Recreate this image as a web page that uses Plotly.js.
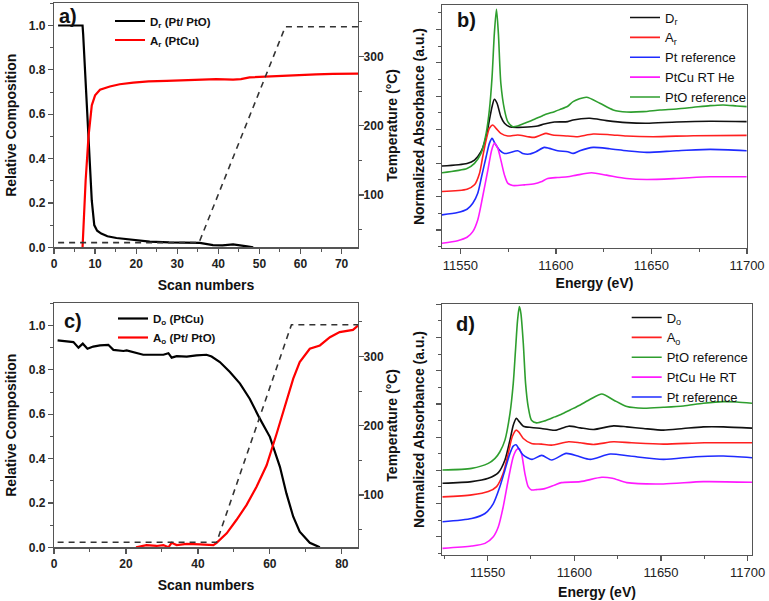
<!DOCTYPE html>
<html><head><meta charset="utf-8">
<script src="https://cdn.plot.ly/plotly-3.0.1.min.js"></script>
<style>html,body{margin:0;padding:0;background:#fff}#chart{width:769px;height:601px}</style>
</head><body><div id="chart"></div>
<script>
// ---------- Panel a ----------
const aScanD = [1, 6.95, 7.1, 7.95, 8.6, 9.2, 9.8, 10.5, 11.5, 13, 15.2, 19.3, 23.3, 28, 32, 35.5, 38.7, 41, 43.6, 45.2, 47, 48.5];
const aD     = [1.0, 1.0, 0.96, 0.66, 0.41, 0.21, 0.10, 0.075, 0.062, 0.05, 0.042, 0.033, 0.026, 0.022, 0.02, 0.02, 0.01, 0.009, 0.013, 0.01, 0.004, 0.0];
const aScanA = [6.95, 7.7, 8.4, 9.2, 10.0, 11.2, 13.6, 16, 19.3, 23, 27.4, 31, 35.5, 39.5, 43.6, 45.5, 47.6, 51.7, 55.8, 59.8, 63.8, 67.9, 74];
const aA     = [0.0, 0.30, 0.50, 0.64, 0.685, 0.71, 0.725, 0.735, 0.742, 0.748, 0.75, 0.752, 0.755, 0.758, 0.756, 0.758, 0.766, 0.77, 0.772, 0.778, 0.78, 0.782, 0.783];
const aScanT = [1, 35.3, 56.3, 74];
const aTemp  = [31, 31, 343, 343];

// ---------- Panel c ----------
const cScanD = [1, 3.5, 5.4, 6.8, 8.0, 9.3, 10.9, 12.8, 15.1, 16.5, 19.3, 20.2, 22.0, 24.8, 27.6, 30.4, 31.8, 32.7, 34.1, 36.9, 39.6, 42.4, 43.8, 46.1, 48.9, 51.7, 54.4, 57.2, 60.0, 62.8, 64.6, 66.5, 68.3, 71.1, 73.9];
const cD     = [0.933, 0.93, 0.925, 0.90, 0.918, 0.895, 0.905, 0.91, 0.913, 0.89, 0.885, 0.888, 0.88, 0.868, 0.868, 0.868, 0.875, 0.855, 0.862, 0.86, 0.865, 0.868, 0.86, 0.835, 0.79, 0.738, 0.67, 0.58, 0.498, 0.363, 0.243, 0.138, 0.07, 0.02, 0.0];
const cScanA = [22.8, 25.7, 28.5, 30.4, 31.8, 32.7, 34.1, 36.9, 40.6, 44.3, 45.2, 48.0, 50.7, 53.5, 56.3, 59.1, 61.9, 64.6, 66.5, 68.3, 71.1, 73.9, 76.7, 79.4, 83.1, 84.5];
const cA     = [0.0, 0.01, 0.006, 0.01, 0.0, 0.02, 0.01, 0.015, 0.013, 0.01, 0.02, 0.063, 0.123, 0.19, 0.273, 0.37, 0.513, 0.663, 0.76, 0.835, 0.895, 0.91, 0.947, 0.97, 0.98, 1.0];
const cScanT = [1, 45.2, 66.0, 84.5];
const cTemp  = [31.5, 31.5, 346, 346];

// ---------- Panel b (energy eV, offset absorbance a.u.) ----------
const bGreenE = [11540, 11553.5, 11557.4, 11560.8, 11563.5, 11565.2, 11566.6, 11567.8, 11568.9, 11569.9, 11571.2, 11573.1, 11574.8, 11577.4, 11580.0, 11583.6, 11588.8, 11593.9, 11599.2, 11602.0, 11606.2, 11609.0, 11616.0, 11623.0, 11630.0, 11637.0, 11645.7, 11654.5, 11663.2, 11672.0, 11680.7, 11687.6, 11694.6, 11699.8];
const bGreen  = [2.71, 2.84, 2.99, 3.29, 3.89, 4.59, 5.58, 6.88, 7.60, 6.88, 5.38, 4.59, 4.24, 4.09, 4.11, 4.19, 4.31, 4.44, 4.54, 4.6, 4.7, 4.84, 4.97, 4.79, 4.59, 4.53, 4.54, 4.59, 4.62, 4.67, 4.72, 4.74, 4.71, 4.69];
const bBlackE = [11540, 11553.5, 11557.4, 11560.8, 11563.5, 11565.2, 11566.6, 11567.8, 11569.2, 11571.2, 11573.1, 11575.7, 11580.0, 11585.3, 11590.4, 11593.9, 11599.2, 11606.2, 11609.0, 11617.8, 11626.5, 11637.0, 11647.5, 11663.2, 11680.7, 11699.8];
const bBlack  = [2.91, 2.99, 3.09, 3.34, 3.79, 4.29, 4.69, 4.91, 4.79, 4.39, 4.19, 4.09, 4.07, 4.08, 4.11, 4.17, 4.23, 4.24, 4.29, 4.34, 4.27, 4.21, 4.19, 4.23, 4.25, 4.24];
const bRedE   = [11540, 11553.5, 11557.4, 11560.0, 11561.7, 11563.5, 11565.2, 11567.0, 11568.7, 11571.2, 11574.8, 11580.0, 11585.3, 11588.8, 11592.2, 11594.8, 11598.3, 11606.2, 11610.8, 11619.5, 11628.2, 11637.0, 11650.9, 11672.0, 11699.8];
const bRed    = [2.15, 2.22, 2.35, 2.69, 3.19, 3.69, 4.04, 4.14, 4.04, 3.89, 3.81, 3.84, 3.79, 3.77, 3.84, 3.89, 3.84, 3.81, 3.79, 3.87, 3.85, 3.81, 3.79, 3.82, 3.83];
const bBlueE  = [11540, 11548.6, 11553.5, 11556.5, 11559.1, 11561.1, 11563.5, 11565.2, 11566.6, 11568.1, 11570.5, 11573.1, 11575.7, 11580.0, 11582.6, 11586.1, 11589.6, 11593.9, 11596.5, 11600.9, 11606.2, 11609.0, 11612.5, 11619.5, 11628.2, 11637.0, 11647.5, 11663.2, 11680.7, 11699.8];
const bBlue   = [1.45, 1.52, 1.62, 1.80, 2.10, 2.59, 3.19, 3.59, 3.74, 3.59, 3.39, 3.29, 3.31, 3.37, 3.29, 3.27, 3.34, 3.47, 3.44, 3.37, 3.34, 3.29, 3.37, 3.47, 3.43, 3.37, 3.32, 3.37, 3.41, 3.37];
const bMagE   = [11540, 11548.6, 11553.5, 11556.5, 11559.1, 11561.7, 11564.4, 11566.4, 11567.8, 11569.6, 11571.2, 11573.1, 11574.8, 11577.4, 11583.6, 11588.8, 11592.2, 11595.7, 11600.9, 11606.2, 11610.8, 11618.6, 11626.5, 11637.0, 11647.5, 11663.2, 11680.7, 11699.8];
const bMag    = [0.60, 0.68, 0.78, 0.95, 1.30, 2.00, 2.79, 3.39, 3.59, 3.44, 3.09, 2.64, 2.40, 2.33, 2.35, 2.38, 2.44, 2.54, 2.57, 2.59, 2.64, 2.71, 2.64, 2.54, 2.51, 2.54, 2.59, 2.59];

// ---------- Panel d ----------
const dGreenE = [11524, 11540.8, 11550.4, 11554.3, 11557.1, 11560.0, 11562.9, 11564.8, 11566.1, 11567.3, 11568.3, 11569.2, 11570.6, 11571.9, 11573.4, 11575.3, 11578.2, 11583.0, 11588.8, 11592.6, 11597.6, 11603.4, 11609.2, 11615.9, 11622.6, 11630.3, 11639.9, 11651.4, 11662.9, 11674.4, 11686.0, 11693.7, 11702.5];
const dGreen  = [3.01, 3.06, 3.21, 3.36, 3.56, 3.91, 4.71, 5.62, 6.62, 7.53, 7.93, 7.73, 6.82, 5.62, 4.92, 4.51, 4.43, 4.49, 4.61, 4.69, 4.82, 4.97, 5.14, 5.30, 5.12, 4.92, 4.87, 4.90, 4.94, 5.02, 5.07, 5.06, 5.02];
const dBlackE = [11524, 11540.8, 11550.4, 11556.2, 11560.0, 11562.9, 11564.8, 11566.6, 11567.9, 11570.6, 11575.3, 11581.1, 11585.0, 11589.5, 11596.7, 11603.4, 11611.0, 11622.6, 11630.3, 11639.9, 11651.4, 11662.9, 11674.4, 11686.0, 11702.5];
const dBlack  = [2.61, 2.66, 2.76, 2.93, 3.31, 3.91, 4.36, 4.57, 4.49, 4.33, 4.29, 4.26, 4.23, 4.21, 4.33, 4.28, 4.23, 4.34, 4.31, 4.26, 4.21, 4.26, 4.31, 4.31, 4.27];
const dRedE   = [11524, 11540.8, 11550.4, 11555.2, 11559.0, 11561.9, 11564.2, 11566.4, 11567.9, 11570.6, 11575.3, 11581.1, 11586.9, 11596.7, 11603.4, 11611.0, 11622.6, 11633.0, 11651.4, 11675.0, 11702.5];
const dRed    = [2.20, 2.26, 2.36, 2.51, 2.91, 3.51, 4.01, 4.21, 4.16, 3.96, 3.81, 3.79, 3.76, 3.86, 3.83, 3.78, 3.86, 3.83, 3.79, 3.83, 3.83];
const dBlueE  = [11524, 11540.8, 11548.5, 11553.3, 11557.1, 11560.0, 11562.9, 11564.8, 11566.4, 11567.9, 11570.6, 11575.6, 11581.2, 11587.0, 11595.3, 11602.0, 11609.2, 11620.7, 11632.0, 11651.4, 11670.0, 11686.0, 11702.5];
const dBlue   = [1.45, 1.55, 1.70, 2.00, 2.51, 3.01, 3.51, 3.73, 3.77, 3.66, 3.46, 3.33, 3.45, 3.31, 3.51, 3.43, 3.33, 3.49, 3.43, 3.33, 3.41, 3.43, 3.38];
const dMagE   = [11524, 11540.8, 11548.5, 11553.3, 11556.2, 11559.0, 11561.9, 11564.8, 11566.7, 11568.1, 11569.6, 11571.5, 11573.4, 11575.3, 11578.2, 11583.0, 11588.8, 11592.6, 11603.4, 11615.9, 11622.0, 11630.3, 11651.4, 11674.4, 11702.5];
const dMag    = [0.65, 0.72, 0.80, 1.00, 1.30, 1.90, 2.71, 3.41, 3.62, 3.66, 3.49, 2.91, 2.51, 2.41, 2.42, 2.45, 2.56, 2.63, 2.66, 2.79, 2.76, 2.63, 2.59, 2.66, 2.64];

// ---------- styling ----------
const FONT = 'Liberation Sans, Arial, sans-serif';
const FRAME = '#555';
const W = 769, H = 601;
const px = v => v / W;
const py = v => 1 - v / H;

const GREEN = '#2e9e2e', MAG = '#ff1aff', BLUE = '#1f2bff', RED = '#ff2020', BLK = '#111';

const line = (x, y, name, color, xa, ya, lg, w) => ({
  type: 'scatter', mode: 'lines', x, y, name, xaxis: xa, yaxis: ya, legend: lg,
  line: {color, width: w, shape: 'spline', smoothing: 0.7}
});
const straight = (x, y, name, color, xa, ya, lg) => ({
  type: 'scatter', mode: 'lines', x, y, name, xaxis: xa, yaxis: ya, legend: lg,
  line: {color, width: 2.2}
});

const traces = [
  straight(aScanD, aD, 'D<sub>r</sub> (Pt/ PtO)', '#000', 'x', 'y', 'legend'),
  straight(aScanA, aA, 'A<sub>r</sub> (PtCu)', '#ff0000', 'x', 'y', 'legend'),
  {type:'scatter', mode:'lines', x:aScanT, y:aTemp, xaxis:'x', yaxis:'y2', showlegend:false, line:{color:'#333', width:1.6, dash:'6px,5px'}},

  line(bBlackE, bBlack, 'D<sub>r</sub>', BLK, 'x2', 'y3', 'legend2', 1.6),
  line(bRedE, bRed, 'A<sub>r</sub>', RED, 'x2', 'y3', 'legend2', 1.6),
  line(bBlueE, bBlue, 'Pt reference', BLUE, 'x2', 'y3', 'legend2', 1.6),
  line(bMagE, bMag, 'PtCu RT He', MAG, 'x2', 'y3', 'legend2', 1.6),
  line(bGreenE, bGreen, 'PtO reference', GREEN, 'x2', 'y3', 'legend2', 1.6),

  straight(cScanD, cD, 'D<sub>o</sub> (PtCu)', '#000', 'x3', 'y4', 'legend3'),
  straight(cScanA, cA, 'A<sub>o</sub> (Pt/ PtO)', '#ff0000', 'x3', 'y4', 'legend3'),
  {type:'scatter', mode:'lines', x:cScanT, y:cTemp, xaxis:'x3', yaxis:'y5', showlegend:false, line:{color:'#333', width:1.6, dash:'6px,5px'}},

  line(dBlackE, dBlack, 'D<sub>o</sub>', BLK, 'x4', 'y6', 'legend4', 1.6),
  line(dRedE, dRed, 'A<sub>o</sub>', RED, 'x4', 'y6', 'legend4', 1.6),
  line(dGreenE, dGreen, 'PtO reference', GREEN, 'x4', 'y6', 'legend4', 1.6),
  line(dMagE, dMag, 'PtCu He RT', MAG, 'x4', 'y6', 'legend4', 1.6),
  line(dBlueE, dBlue, 'Pt reference', BLUE, 'x4', 'y6', 'legend4', 1.6)
];

const tfBold = {family: FONT, size: 12, color: '#222', weight: 'bold'};
const tfReg  = {family: FONT, size: 13, color: '#222'};
const titleF = {family: FONT, size: 14, color: '#111', weight: 'bold'};
const base = {showline: true, linecolor: FRAME, linewidth: 1.2, ticks: 'outside', ticklen: 5, tickwidth: 1.2,
  tickcolor: FRAME, showgrid: false, zeroline: false, fixedrange: true};
const minor = (d) => ({dtick: d, ticklen: 3, tickcolor: FRAME, tickwidth: 1, showgrid: false});

const layout = {
  width: W, height: H, margin: {l: 0, r: 0, t: 0, b: 0},
  paper_bgcolor: '#fff', plot_bgcolor: 'rgba(0,0,0,0)',
  font: {family: FONT},
  // panel a
  xaxis: Object.assign({}, base, {domain: [px(54), px(358)], anchor: 'y', range: [0, 74], tick0: 0, dtick: 10,
    minor: minor(5), mirror: true, tickfont: tfBold,
    title: {text: 'Scan numbers', font: titleF, standoff: 10}}),
  yaxis: Object.assign({}, base, {domain: [py(247.3), py(3.3)], anchor: 'x', range: [0, 1.1], tick0: 0, dtick: 0.2,
    tickformat: '.1f', minor: minor(0.1), tickfont: tfBold,
    title: {text: 'Relative Composition', font: titleF, standoff: 8}}),
  yaxis2: Object.assign({}, base, {overlaying: 'y', side: 'right', anchor: 'x', range: [24.3, 377], tick0: 0, dtick: 100,
    minor: minor(50), tickfont: tfBold, ticklabelstandoff: -3,
    title: {text: 'Temperature (°C)', font: titleF, standoff: 2}}),
  // panel b
  xaxis2: Object.assign({}, base, {domain: [px(442), px(747)], anchor: 'y3', range: [11540.4, 11700], tick0: 11550, dtick: 50,
    tickformat: 'd', minor: minor(25), mirror: true, tickfont: tfReg,
    title: {text: 'Energy (eV)', font: titleF, standoff: 6}}),
  yaxis3: Object.assign({}, base, {domain: [py(248), py(5)], anchor: 'x2', range: [0.46, 7.73], tick0: 0, dtick: 1,
    minor: minor(0.5), mirror: true, showticklabels: false,
    title: {text: 'Normalized Absorbance (a.u.)', font: titleF, standoff: 8}}),
  // panel c
  xaxis3: Object.assign({}, base, {domain: [px(54), px(358)], anchor: 'y4', range: [0, 84.5], tick0: 0, dtick: 20,
    minor: minor(10), mirror: true, tickfont: tfBold,
    title: {text: 'Scan numbers', font: titleF, standoff: 10}}),
  yaxis4: Object.assign({}, base, {domain: [py(547.3), py(303.3)], anchor: 'x3', range: [0, 1.1], tick0: 0, dtick: 0.2,
    tickformat: '.1f', minor: minor(0.1), tickfont: tfBold,
    title: {text: 'Relative Composition', font: titleF, standoff: 8}}),
  yaxis5: Object.assign({}, base, {overlaying: 'y4', side: 'right', anchor: 'x3', range: [24.3, 377], tick0: 0, dtick: 100,
    minor: minor(50), tickfont: tfBold, ticklabelstandoff: -3,
    title: {text: 'Temperature (°C)', font: titleF, standoff: 2}}),
  // panel d
  xaxis4: Object.assign({}, base, {domain: [px(442), px(752)], anchor: 'y6', range: [11523.7, 11702.5], tick0: 11550, dtick: 50,
    tickformat: 'd', minor: minor(25), mirror: true, tickfont: tfReg,
    title: {text: 'Energy (eV)', font: titleF, standoff: 8}}),
  yaxis6: Object.assign({}, base, {domain: [py(555), py(304)], anchor: 'x4', range: [0.45, 8.01], tick0: 0, dtick: 1,
    minor: minor(0.5), mirror: true, showticklabels: false,
    title: {text: 'Normalized Absorbance (a.u.)', font: titleF, standoff: 8}}),

  legend:  {x: px(110), y: py(6.5), xanchor: 'left', yanchor: 'top', bgcolor: 'rgba(0,0,0,0)', borderwidth: 0,
    font: {family: FONT, size: 11.5, color: '#111', weight: 'bold'}, itemwidth: 30, tracegroupgap: 0},
  legend2: {x: px(625), y: py(2.5), xanchor: 'left', yanchor: 'top', bgcolor: 'rgba(0,0,0,0)', borderwidth: 0,
    font: {family: FONT, size: 13, color: '#111'}, itemwidth: 30, tracegroupgap: 0},
  legend3: {x: px(113), y: py(304), xanchor: 'left', yanchor: 'top', bgcolor: 'rgba(0,0,0,0)', borderwidth: 0,
    font: {family: FONT, size: 11.5, color: '#111', weight: 'bold'}, itemwidth: 30, tracegroupgap: 0},
  legend4: {x: px(626.7), y: py(302.5), xanchor: 'left', yanchor: 'top', bgcolor: 'rgba(0,0,0,0)', borderwidth: 0,
    font: {family: FONT, size: 13, color: '#111'}, itemwidth: 30, tracegroupgap: 0},

  annotations: [
    {text: 'a)', x: px(57), y: py(16), xref: 'paper', yref: 'paper', xanchor: 'left', yanchor: 'middle', showarrow: false,
     font: {family: FONT, size: 20, color: '#111', weight: 'bold'}},
    {text: 'b)', x: px(455), y: py(20.5), xref: 'paper', yref: 'paper', xanchor: 'left', yanchor: 'middle', showarrow: false,
     font: {family: FONT, size: 20, color: '#111', weight: 'bold'}},
    {text: 'c)', x: px(62), y: py(321), xref: 'paper', yref: 'paper', xanchor: 'left', yanchor: 'middle', showarrow: false,
     font: {family: FONT, size: 20, color: '#111', weight: 'bold'}},
    {text: 'd)', x: px(454), y: py(323.5), xref: 'paper', yref: 'paper', xanchor: 'left', yanchor: 'middle', showarrow: false,
     font: {family: FONT, size: 20, color: '#111', weight: 'bold'}}
  ]
};

Plotly.newPlot('chart', traces, layout, {displayModeBar: false, staticPlot: true});
</script></body></html>
